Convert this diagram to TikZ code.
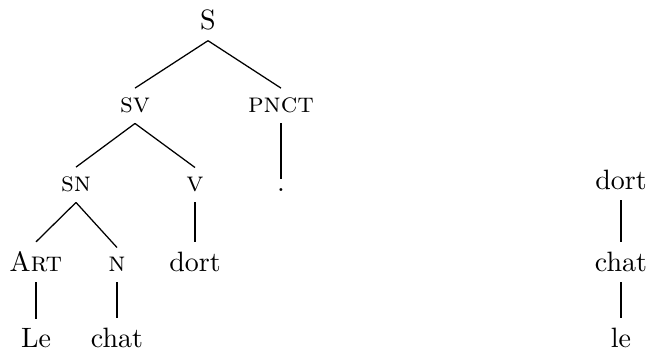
\documentclass[tikz,border=0pt]{standalone}
\begin{document}
\begin{tikzpicture}[x=0.357pt,y=-0.357pt,
  lab/.style={anchor=base,inner xsep=1pt,inner ysep=3.6pt,outer sep=0pt},
  edge/.style={line width=0.45pt}]
\useasboundingbox (0,0) rectangle (650,354);
% left tree
\node[lab] (S) at (208,30) {S};
\node[lab] (SV) at (135,113) {\textsc{sv}};
\node[lab] (PNCT) at (281,113) {\textsc{pnct}};
\node[lab] (SN) at (76,192) {\textsc{sn}};
\node[lab] (V) at (195,192) {\textsc{v}};
\node[lab] (dot) at (281,192) {.};
\node[lab] (ART) at (36,272) {A\textsc{rt}};
\node[lab] (N) at (117,272) {\textsc{n}};
\node[lab] (dort) at (195,272) {dort};
\node[lab] (Le) at (36,348) {Le};
\node[lab] (chat) at (117,348) {chat};
\draw[edge] (S.south) -- (SV.north);
\draw[edge] (S.south) -- (PNCT.north);
\draw[edge] (SV.south) -- (SN.north);
\draw[edge] (SV.south) -- (V.north);
\draw[edge] (PNCT.south) -- (dot.north);
\draw[edge] (SN.south) -- (ART.north);
\draw[edge] (SN.south) -- (N.north);
\draw[edge] (V.south) -- (dort.north);
\draw[edge] (ART.south) -- (Le.north);
\draw[edge] (N.south) -- (chat.north);
% right tree
\node[lab] (rdort) at (621,190) {dort};
\node[lab] (rchat) at (621,272) {chat};
\node[lab] (rle) at (621,348) {le};
\draw[edge] (rdort.south) -- (rchat.north);
\draw[edge] (rchat.south) -- (rle.north);
\end{tikzpicture}
\end{document}
